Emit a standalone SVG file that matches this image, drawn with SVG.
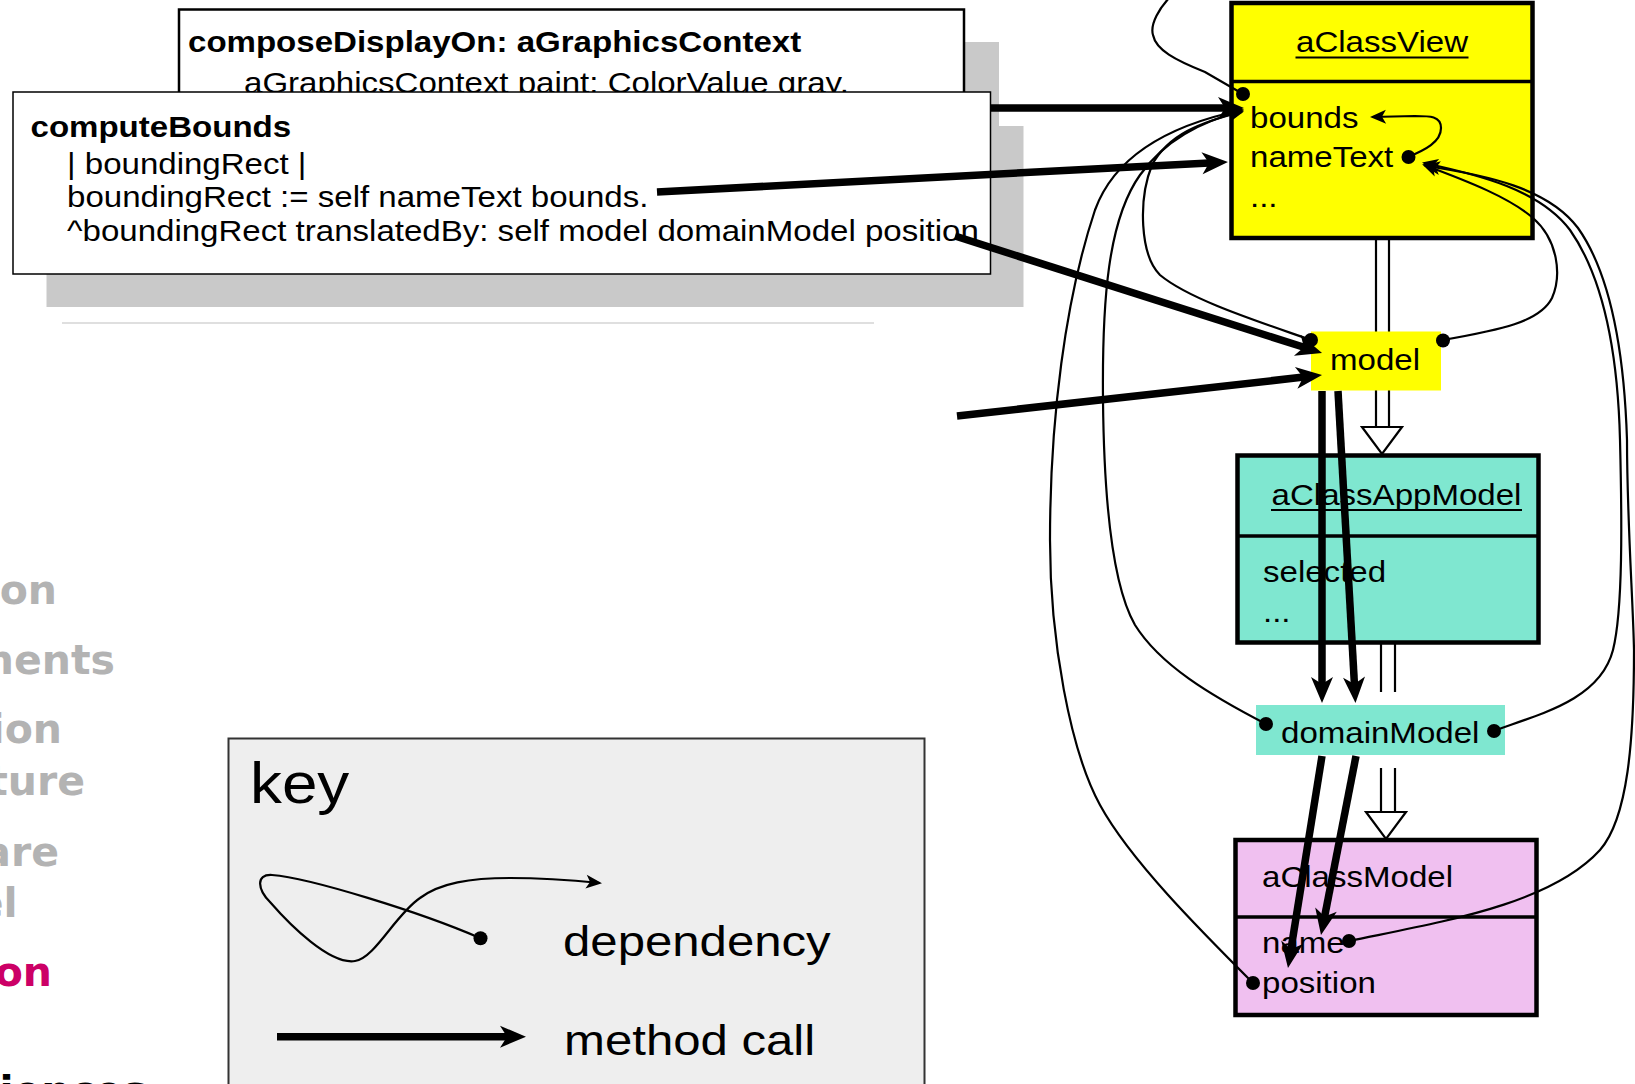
<svg xmlns="http://www.w3.org/2000/svg" width="1635" height="1084" viewBox="0 0 1635 1084">
<defs>
<style>
.t{font-family:"Liberation Sans",Arial,Helvetica,sans-serif;font-size:29px;fill:#000}
.b{font-weight:bold}
.side{font-family:"DejaVu Sans",Verdana,sans-serif;font-weight:bold;font-size:41px;text-anchor:end}
.grey{fill:#b3b3b3}
.dep{fill:none;stroke:#000;stroke-width:2.2}
.depa{fill:none;stroke:#000;stroke-width:2.2;marker-end:url(#small)}
.call{fill:none;stroke:#000;stroke-width:7.5;marker-end:url(#big)}
.gen{fill:none;stroke:#000;stroke-width:2.2}
.tri{fill:#fff;stroke:#000;stroke-width:2.2;stroke-linejoin:miter}
.dot{fill:#000}
.box{stroke:#000;stroke-width:4.5}
.ul{stroke:#000;stroke-width:2}
</style>
<marker id="big" markerUnits="userSpaceOnUse" markerWidth="40" markerHeight="30" refX="12" refY="0" viewBox="0 -15 40 30" orient="auto" overflow="visible">
<path d="M0,-11 L26,0 L0,11 L7,0 Z" fill="#000"/>
</marker>
<marker id="small" markerUnits="userSpaceOnUse" markerWidth="20" markerHeight="20" refX="14" refY="0" viewBox="0 -10 20 20" orient="auto" overflow="visible">
<path d="M0,-7 L16,0 L0,7 L4,0 Z" fill="#000"/>
</marker>
</defs>
<rect x="0" y="0" width="1635" height="1084" fill="#fff"/>

<g id="sidebar">
<text class="side grey" x="57" y="604">on</text>
<text class="side grey" x="115" y="673.5">ments</text>
<text class="side grey" x="62" y="743">ion</text>
<text class="side grey" x="85" y="795">ture</text>
<text class="side grey" x="59" y="866">are</text>
<text class="side grey" x="17.5" y="916.5">el</text>
<text class="side" x="52" y="986" fill="#cc0066">on</text>
<text class="side" x="147" y="1105" fill="#000">riences</text>
</g>

<g id="composeDisplayOn">
<rect x="213" y="42" width="786" height="100" fill="#c9c9c9"/>
<rect x="179" y="9.5" width="785" height="100" fill="#fff" stroke="#000" stroke-width="2.5"/>
<text class="t b" transform="translate(188 52) scale(1.14 1)">composeDisplayOn: aGraphicsContext</text>
<text class="t" transform="translate(244 93) scale(1.14 1)">aGraphicsContext paint: ColorValue gray.</text>
</g>

<g id="computeBounds">
<rect x="46.5" y="126" width="977" height="181" fill="#c9c9c9"/>
<rect x="13" y="92" width="977.5" height="182" fill="#fff" stroke="#000" stroke-width="1.5"/>
<text class="t b" transform="translate(30.5 137) scale(1.14 1)">computeBounds</text>
<text class="t" transform="translate(67 174) scale(1.14 1)">| boundingRect |</text>
<text class="t" transform="translate(67 207) scale(1.14 1)">boundingRect := self nameText bounds.</text>
<text class="t" transform="translate(67 241) scale(1.14 1)">^boundingRect translatedBy: self model domainModel position</text>
</g>

<line id="separator" x1="62" y1="323" x2="874" y2="323" stroke="#d4d4d4" stroke-width="1.5"/>

<g id="aClassView">
<rect class="box" x="1231.5" y="3" width="301" height="235" fill="#ffff00"/>
<line x1="1231.5" y1="81.5" x2="1532.5" y2="81.5" stroke="#000" stroke-width="3.5"/>
<text class="t" text-anchor="middle" transform="translate(1382 52) scale(1.14 1)">aClassView</text>
<line class="ul" x1="1295.5" y1="57.5" x2="1468.5" y2="57.5"/>
<text class="t" transform="translate(1250 128) scale(1.14 1)">bounds</text>
<text class="t" transform="translate(1250 167) scale(1.14 1)">nameText</text>
<text class="t" transform="translate(1250 207) scale(1.14 1)">...</text>
</g>

<g id="aClassAppModel">
<rect class="box" x="1237.5" y="455.5" width="301" height="187" fill="#7fe7d0"/>
<line x1="1237.5" y1="536" x2="1538.5" y2="536" stroke="#000" stroke-width="3.5"/>
<text class="t" text-anchor="middle" transform="translate(1396.5 505) scale(1.14 1)">aClassAppModel</text>
<line class="ul" x1="1271" y1="510" x2="1522" y2="510"/>
<text class="t" transform="translate(1263 582) scale(1.14 1)">selected</text>
<text class="t" transform="translate(1263 622) scale(1.14 1)">...</text>
</g>

<g id="aClassModel">
<rect class="box" x="1235.5" y="840" width="301" height="175" fill="#f0c0f0"/>
<line x1="1235.5" y1="917" x2="1536.5" y2="917" stroke="#000" stroke-width="3.5"/>
<text class="t" transform="translate(1262 887) scale(1.14 1)">aClassModel</text>
<text class="t" transform="translate(1262 953) scale(1.14 1)">name</text>
<text class="t" transform="translate(1262 993) scale(1.14 1)">position</text>
</g>

<g id="inheritance">
<line class="gen" x1="1376" y1="238" x2="1376" y2="427"/>
<line class="gen" x1="1389" y1="238" x2="1389" y2="427"/>
<path class="tri" d="M1362 427 L1402 427 L1382 454 Z"/>
<line class="gen" x1="1381" y1="644" x2="1381" y2="692"/>
<line class="gen" x1="1395" y1="644" x2="1395" y2="692"/>
<line class="gen" x1="1381" y1="768" x2="1381" y2="812"/>
<line class="gen" x1="1395" y1="768" x2="1395" y2="812"/>
<path class="tri" d="M1366 812 L1406 812 L1386 839 Z"/>
</g>

<g id="model">
<rect x="1311" y="331.5" width="130" height="59" fill="#ffff00"/>
<text class="t" transform="translate(1330 370) scale(1.14 1)">model</text>
</g>

<g id="domainModel">
<rect x="1256" y="705" width="249" height="50" fill="#7fe7d0"/>
<text class="t" transform="translate(1281 743) scale(1.14 1)">domainModel</text>
</g>

<g id="key">
<rect x="228.5" y="738.5" width="696" height="360" fill="#eeeeee" stroke="#333" stroke-width="2"/>
<text class="t" style="font-size:58px" transform="translate(250 803) scale(1.1 1)">key</text>
<path class="depa" d="M480 938 C420 912 310 878 272 875 C255 874 258 890 270 902 C290 925 330 965 355 961 C375 958 395 915 420 898 C440 883 470 878 510 878 C545 878 570 880 600 883"/>
<circle class="dot" cx="480.5" cy="938.3" r="7"/>
<text class="t" style="font-size:42px" transform="translate(563 956) scale(1.17 1)">dependency</text>
<path class="call" d="M277 1036.7 L512 1036.7"/>
<text class="t" style="font-size:42px" transform="translate(564 1055) scale(1.17 1)">method call</text>
</g>

<g id="connectors">
<path class="dep" d="M1175 -8 C1158 8 1150 25 1153 35 C1156 50 1175 60 1205 72 L1243 94"/>
<path class="depa" d="M1408 157 C1425 150 1441 142 1441 128 C1441 116 1430 116 1415 116 L1372 117"/>
<path class="depa" d="M1311 340 C1260 322 1190 300 1160 275 C1140 255 1138 200 1152 165 C1168 135 1200 122 1242 112"/>
<path class="depa" d="M1266 724 C1210 695 1160 665 1135 625 C1112 585 1104 500 1103 400 C1102 300 1108 220 1140 175 C1165 140 1200 122 1242 111"/>
<path class="depa" d="M1253 983 C1200 930 1130 860 1100 805 C1070 750 1050 640 1050 540 C1050 420 1065 300 1095 210 C1115 155 1170 125 1242 110"/>
<path class="depa" d="M1443 340 C1500 330 1540 322 1552 298 C1562 275 1558 240 1533 218 C1510 198 1470 182 1424 165"/>
<path class="depa" d="M1493 731 C1540 714 1600 700 1613 650 C1623 610 1622 520 1620 440 C1618 360 1605 280 1570 230 C1540 190 1480 175 1424 163"/>
<path class="depa" d="M1349 941 C1440 922 1550 905 1600 850 C1628 818 1634 740 1634 650 C1633 600 1627 520 1627 440 C1624 345 1609 272 1578 228 C1548 188 1486 175 1426 166"/>
<path class="call" d="M991 108 L1230 108"/>
<path class="call" d="M657 192 L1214 162.7"/>
<path class="call" d="M955 236 L1308.7 348.8"/>
<path class="call" d="M957 416 L1308.1 376.6"/>
<path class="call" d="M1322 391 L1322 689"/>
<path class="call" d="M1338 391 L1354.7 689"/>
<path class="call" d="M1322 756 L1290.2 954.2"/>
<path class="call" d="M1356 756 L1323.7 921.3"/>
<circle class="dot" cx="1243" cy="94" r="7"/>
<circle class="dot" cx="1408.5" cy="157" r="7"/>
<circle class="dot" cx="1311" cy="340" r="7"/>
<circle class="dot" cx="1443" cy="340.5" r="7"/>
<circle class="dot" cx="1266" cy="724" r="7"/>
<circle class="dot" cx="1494" cy="731" r="7"/>
<circle class="dot" cx="1349" cy="941" r="7"/>
<circle class="dot" cx="1253" cy="983" r="7"/>
</g>
</svg>
